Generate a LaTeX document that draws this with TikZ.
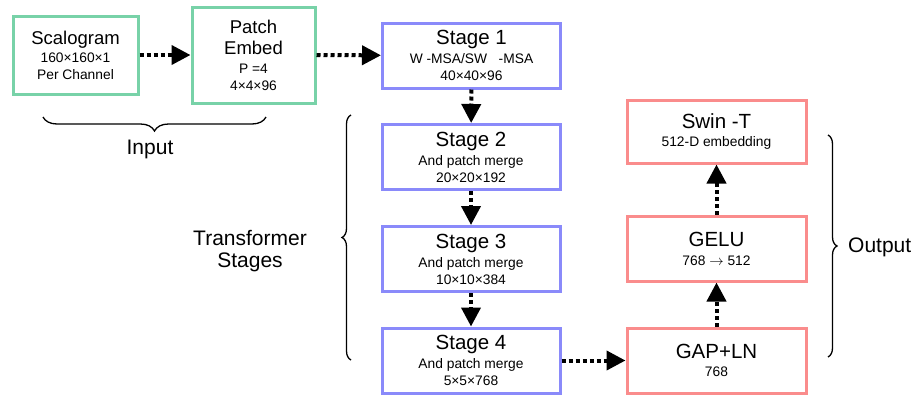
\documentclass[tikz,border=0pt]{standalone}
\usepackage{fontspec}
\setmainfont{Liberation Sans}
\usetikzlibrary{arrows.meta, decorations.pathreplacing}
\definecolor{boxgreen}{RGB}{120,210,168}
\definecolor{boxblue}{RGB}{138,138,250}
\definecolor{boxred}{RGB}{250,140,140}
\newcommand{\titlef}{\fontsize{20.5}{24}\selectfont}
\newcommand{\midf}{\fontsize{18.5}{22}\selectfont}
\newcommand{\subf}{\fontsize{13.8}{17}\selectfont}

\begin{document}
\begin{tikzpicture}[x=1pt, y=-1pt,
		box/.style={draw=#1, line width=3pt, fill=white, align=center, inner sep=0pt,
			font=\subf, minimum width=178pt, minimum height=65pt},
		flow/.style={line width=4pt, dash pattern=on 4pt off 3pt,
			-{Triangle[length=19pt, width=19pt]}},
		brace/.style={decorate, decoration={brace, amplitude=#1}, line width=1.3pt},
		lbl/.style={font=\fontsize{21}{22}\selectfont, align=center, inner sep=0pt}]
	% Rahmen
	\useasboundingbox (0,0) rectangle (922,405);
	% Eingabe
	\node[box=boxgreen, minimum width=125pt, minimum height=78pt] (scal) at (75.5,55)
		{{\midf Scalogram}\\[1pt] 160×160×1\\ Per Channel};
	\node[box=boxgreen, minimum width=123pt, minimum height=96pt] (patch) at (253.5,55)
		{{\midf Patch}\\[4pt] {\midf Embed}\\[2pt] P =4\\ 4×4×96};
	% Transformer-Stufen
	\node[box=boxblue] (st1) at (471.5,55.5)
		{{\titlef Stage 1}\\[2pt] W -MSA/SW\ \ \ -MSA\\ 40×40×96};
	\node[box=boxblue] (st2) at (471,157)
		{{\titlef Stage 2}\\[2pt] And patch merge\\ 20×20×192};
	\node[box=boxblue] (st3) at (471,259)
		{{\titlef Stage 3}\\[2pt] And patch merge\\ 10×10×384};
	\node[box=boxblue] (st4) at (471,360.5)
		{{\titlef Stage 4}\\[2pt] And patch merge\\ 5×5×768};
	% Ausgabe
	\node[box=boxred, minimum width=179pt, minimum height=63pt] (swin) at (716.5,131.5)
		{{\titlef Swin -T}\\[1pt] 512-D embedding};
	\node[box=boxred, minimum width=179pt] (gelu) at (716.5,248.5)
		{{\titlef GELU}\\[2pt] 768 $\rightarrow$ 512};
	\node[box=boxred, minimum width=179pt] (gap) at (716.5,360.5)
		{{\titlef GAP+LN}\\[1pt] 768};
	% Pfeile
	\draw[flow] (scal) -- (patch);
	\draw[flow] (patch) -- (st1);
	\foreach \a/\b in {st1/st2, st2/st3, st3/st4} \draw[flow] (\a) -- (\b);
	\draw[flow] (st4) -- (gap);
	\draw[flow] (gap) -- (gelu);
	\draw[flow] (gelu) -- (swin);
	% Klammern und Beschriftung
	\draw[brace=14pt] (266,117) -- (43,117);
	\node[lbl] (input) at (150,149.5) {Input};
	\draw[brace=9pt] (351,360) -- (351,115);
	\node[lbl] (trans) at (250,251) {Transformer\\ Stages};
	\draw[brace=9pt] (828,135) -- (828,357);
	\node[lbl, anchor=west] (output) at (848,247.5) {Output};
\end{tikzpicture}
\end{document}
